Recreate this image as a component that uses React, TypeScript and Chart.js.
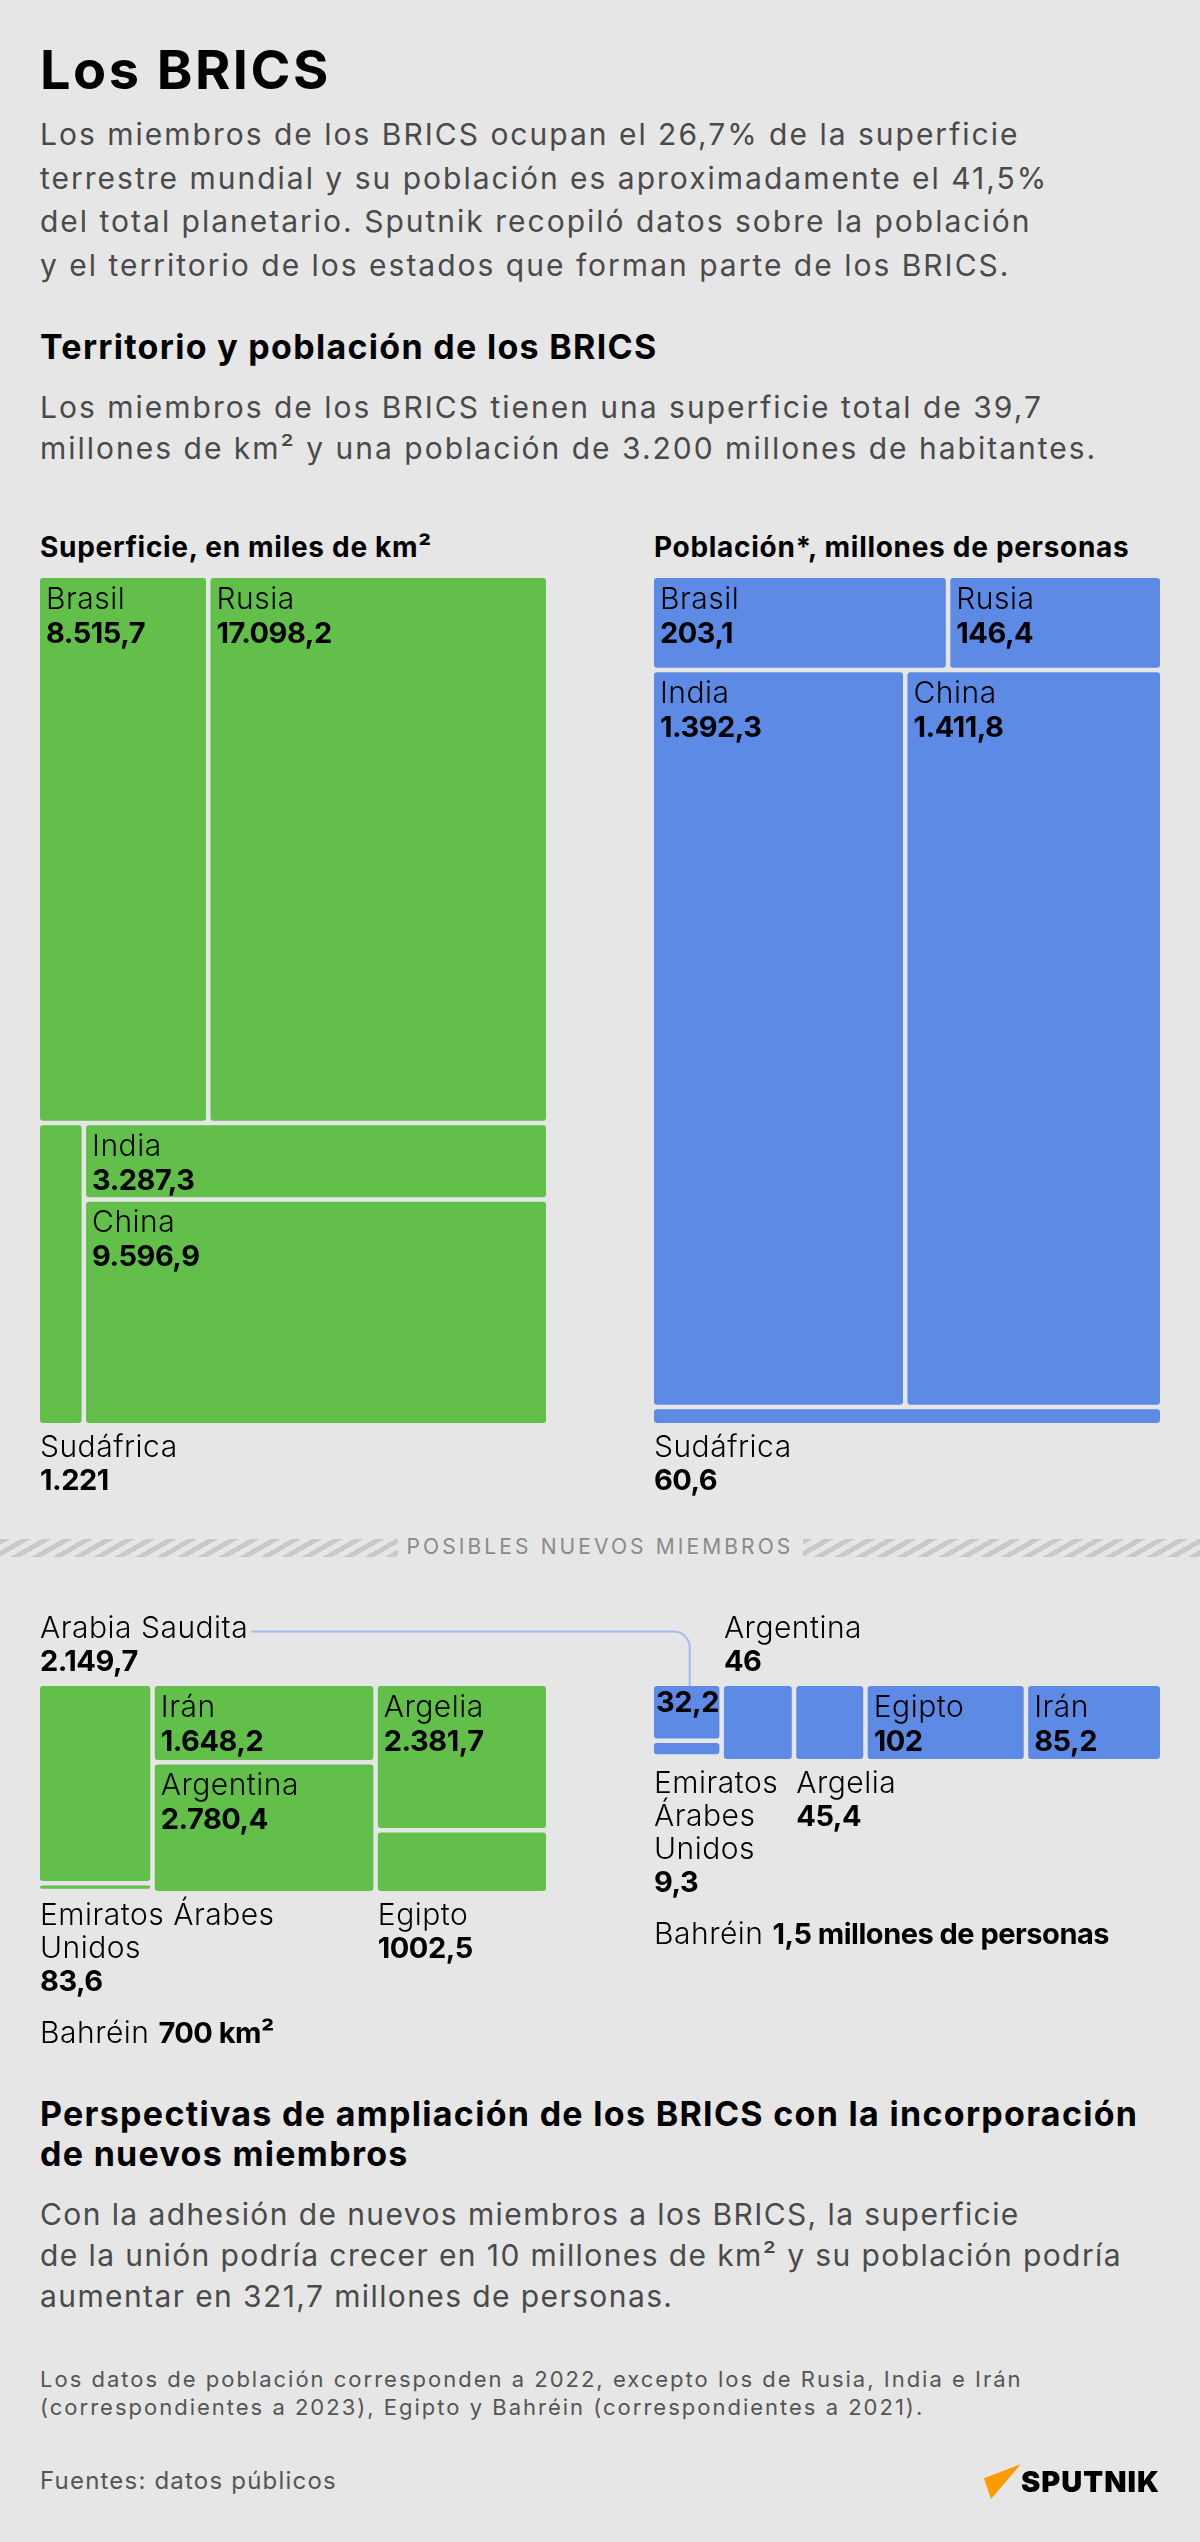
import React, { useEffect, useRef } from 'react';
import { Chart, registerables } from 'chart.js';

Chart.register(...registerables);

const FONT = 'Inter, "Noto Sans", sans-serif';
const GREEN = '#61bf4a';
const BLUE = '#5c8ae5';
const LINK = '#a3bcee';

// ---------- DATA ----------
// BRICS: superficie (miles de km²) y población (millones)
const bricsCountries = ['Brasil', 'Rusia', 'India', 'China', 'Sudáfrica'];
const bricsArea = [8515.7, 17098.2, 3287.3, 9596.9, 1221];
const bricsAreaText = ['8.515,7', '17.098,2', '3.287,3', '9.596,9', '1.221'];
const bricsPopulation = [203.1, 146.4, 1392.3, 1411.8, 60.6];
const bricsPopulationText = ['203,1', '146,4', '1.392,3', '1.411,8', '60,6'];

// Posibles nuevos miembros: superficie
const newAreaCountries = ['Arabia Saudita', 'Irán', 'Argentina', 'Argelia', 'Egipto', 'Emiratos Árabes Unidos', 'Bahréin'];
const newArea = [2149.7, 1648.2, 2780.4, 2381.7, 1002.5, 83.6, 0.7];
const newAreaText = ['2.149,7', '1.648,2', '2.780,4', '2.381,7', '1002,5', '83,6', '700 km²'];

// Posibles nuevos miembros: población
const newPopCountries = ['Arabia Saudita', 'Argentina', 'Emiratos Árabes Unidos', 'Argelia', 'Egipto', 'Irán', 'Bahréin'];
const newPopulation = [32.2, 46, 9.3, 45.4, 102, 85.2, 1.5];
const newPopulationText = ['32,2', '46', '9,3', '45,4', '102', '85,2', '1,5 millones de personas'];

// ---------- TREEMAP STRUCTURE (split directions only, sizes come from values) ----------
type Node = number | { d: 'h' | 'v'; c: Node[] };
const H = (...c: Node[]): Node => ({ d: 'h', c });
const V = (...c: Node[]): Node => ({ d: 'v', c });

const bricsAreaTree = V(H(0, 1), H(4, V(2, 3)));
const bricsPopTree = V(H(0, 1), H(2, 3), 4);
const newAreaTree = H(V(0, 5, 6), V(1, 2), V(3, 4));
const newPopTree = H(V(0, 2, 6), 1, 3, 4, 5);

type Pos = 'inside' | 'below' | 'above' | 'link' | 'note';
const bricsAreaPos: Pos[] = ['inside', 'inside', 'inside', 'inside', 'below'];
const bricsPopPos: Pos[] = ['inside', 'inside', 'inside', 'inside', 'below'];
const newAreaPos: Pos[] = ['above', 'inside', 'inside', 'inside', 'below', 'below', 'note'];
const newPopPos: Pos[] = ['link', 'above', 'below', 'below', 'inside', 'inside', 'note'];

interface Rect { x0: number; y0: number; x1: number; y1: number; }

function nodeSum(n: Node, vals: number[]): number {
  return typeof n === 'number' ? vals[n] : n.c.reduce((s, k) => s + nodeSum(k, vals), 0);
}

function layoutTree(n: Node, vals: number[], x0: number, y0: number, x1: number, y1: number, out: Rect[]) {
  if (typeof n === 'number') {
    out[n] = { x0, y0, x1, y1 };
    return;
  }
  const total = nodeSum(n, vals);
  let acc = 0;
  for (const k of n.c) {
    const s = nodeSum(k, vals);
    const a = acc / total;
    const b = (acc + s) / total;
    if (n.d === 'h') layoutTree(k, vals, x0 + (x1 - x0) * a, y0, x0 + (x1 - x0) * b, y1, out);
    else layoutTree(k, vals, x0, y0 + (y1 - y0) * a, x1, y0 + (y1 - y0) * b, out);
    acc += s;
  }
}

function wrapText(ctx: CanvasRenderingContext2D, text: string, maxW: number): string[] {
  const words = text.split(' ');
  const lines: string[] = [];
  let cur = '';
  for (const w of words) {
    const t = cur ? cur + ' ' + w : w;
    if (cur && ctx.measureText(t).width > maxW) {
      lines.push(cur);
      cur = w;
    } else cur = t;
  }
  if (cur) lines.push(cur);
  return lines;
}

interface Shared { linkX: number; linkY: number; }

interface Cfg {
  names: string[];
  values: number[];
  texts: string[];
  tree: Node;
  pos: Pos[];
  color: string;
  padding: { left: number; right: number; top: number; bottom: number };
  shared: Shared;
}

function nameFont(ctx: any) {
  ctx.font = `300 30px ${FONT}`;
  ctx.letterSpacing = '0.5px';
}
function valueFont(ctx: any) {
  ctx.font = `700 29px ${FONT}`;
  ctx.letterSpacing = '-0.5px';
}

function makePlugin(cfg: Cfg, rects: Rect[]) {
  return {
    id: 'treemapCells',
    afterDatasetsDraw(chart: any) {
      const { ctx, chartArea } = chart;
      const xs = chart.scales.x;
      const ys = chart.scales.y;
      const gap = 4.5;
      const hg = gap / 2;
      const eps = 1e-9;
      const pix = rects.map((r) => {
        let L = xs.getPixelForValue(r.x0);
        let R = xs.getPixelForValue(r.x1);
        let T = ys.getPixelForValue(r.y0);
        let B = ys.getPixelForValue(r.y1);
        if (r.x0 > eps) L += hg;
        if (r.x1 < 1 - eps) R -= hg;
        if (r.y0 > eps) T += hg;
        if (r.y1 < 1 - eps) B -= hg;
        return { L, R, T, B };
      });
      ctx.save();
      // cells
      ctx.fillStyle = cfg.color;
      pix.forEach((p) => {
        const w = p.R - p.L;
        const h = p.B - p.T;
        if (w < 1 || h < 1) return;
        const rad = Math.min(3, w / 2, h / 2);
        ctx.beginPath();
        ctx.roundRect(p.L, p.T, w, h, rad);
        ctx.fill();
      });
      // labels
      ctx.fillStyle = '#000';
      ctx.textBaseline = 'alphabetic';
      ctx.textAlign = 'left';
      let maxBelow = chartArea.bottom;
      cfg.pos.forEach((pos, i) => {
        const p = pix[i];
        const name = cfg.names[i];
        const val = cfg.texts[i];
        if (pos === 'inside') {
          nameFont(ctx);
          ctx.fillText(name, p.L + 6, p.T + 30.5);
          valueFont(ctx);
          ctx.fillText(val, p.L + 6, p.T + 64.5);
        } else if (pos === 'link') {
          valueFont(ctx);
          ctx.fillText(val, p.L + 2, p.T + 26);
        } else if (pos === 'above') {
          nameFont(ctx);
          const nb = chartArea.top - 48.5;
          ctx.fillText(name, p.L, nb);
          if (i === 0) {
            cfg.shared.linkX = p.L + ctx.measureText(name).width + 3;
            cfg.shared.linkY = nb - 6;
          }
          valueFont(ctx);
          ctx.fillText(val, p.L, chartArea.top - 15);
        } else if (pos === 'below') {
          let limit = chart.width - 10;
          cfg.pos.forEach((q, j) => {
            if (q === 'below' && j !== i && pix[j].L > p.L + 1) limit = Math.min(limit, pix[j].L - 30);
          });
          nameFont(ctx);
          const lines = wrapText(ctx, name, limit - p.L);
          let y = chartArea.bottom + 33.5;
          lines.forEach((ln) => {
            ctx.fillText(ln, p.L, y);
            y += 33;
          });
          valueFont(ctx);
          ctx.fillText(val, p.L, y);
          maxBelow = Math.max(maxBelow, y);
        }
      });
      cfg.pos.forEach((pos, i) => {
        if (pos !== 'note') return;
        const y = maxBelow + 52;
        const x = chartArea.left;
        nameFont(ctx);
        const name = cfg.names[i] + ' ';
        ctx.fillText(name, x, y);
        const w = ctx.measureText(name).width;
        valueFont(ctx);
        ctx.fillText(cfg.texts[i], x + w, y);
      });
      // connector
      cfg.pos.forEach((pos, i) => {
        if (pos !== 'link' || !isFinite(cfg.shared.linkX)) return;
        const p = pix[i];
        const cx = (p.L + p.R) / 2 + 3;
        const ly = cfg.shared.linkY;
        const r = 16;
        ctx.strokeStyle = LINK;
        ctx.lineWidth = 2;
        ctx.beginPath();
        ctx.moveTo(cx, p.T);
        ctx.lineTo(cx, ly + r);
        ctx.arcTo(cx, ly, cx - r, ly, r);
        ctx.lineTo(cfg.shared.linkX, ly);
        ctx.stroke();
      });
      ctx.restore();
    },
  };
}

function makeChart(canvas: HTMLCanvasElement, cfg: Cfg) {
  const rects: Rect[] = [];
  layoutTree(cfg.tree, cfg.values, 0, 0, 1, 1, rects);
  return new Chart(canvas, {
    type: 'scatter',
    data: {
      datasets: [
        {
          data: rects.map((r) => ({ x: (r.x0 + r.x1) / 2, y: (r.y0 + r.y1) / 2 })),
          pointRadius: 0,
          pointHoverRadius: 0,
        },
      ],
    },
    options: {
      animation: false,
      responsive: false,
      maintainAspectRatio: false,
      devicePixelRatio: 1,
      events: [],
      layout: { padding: cfg.padding },
      plugins: { legend: { display: false }, tooltip: { enabled: false }, title: { display: false } },
      scales: {
        x: { type: 'linear', min: 0, max: 1, display: false },
        y: { type: 'linear', min: 0, max: 1, reverse: true, display: false },
      },
    },
    plugins: [makePlugin(cfg, rects) as any],
  } as any);
}

function Txt(props: {
  x: number; base: number; size: number; lh: number; weight?: number; color?: string; ls?: number;
  center?: boolean; children: React.ReactNode;
}) {
  const { x, base, size, lh, weight = 400, color = '#000', ls = 0, center = false, children } = props;
  const top = base - ((lh - 1.2109 * size) / 2 + 0.96875 * size);
  return (
    <div
      style={{
        position: 'absolute',
        left: center ? 0 : x,
        width: center ? 1200 : undefined,
        textAlign: center ? 'center' : 'left',
        top,
        fontFamily: FONT,
        fontSize: size,
        lineHeight: lh + 'px',
        fontWeight: weight,
        color,
        letterSpacing: ls,
        whiteSpace: 'pre',
        margin: 0,
      }}
    >
      {children}
    </div>
  );
}

const hatch = 'repeating-linear-gradient(150deg, #c9c9c9 0px, #c9c9c9 5px, transparent 5px, transparent 10.4px)';

export default function App() {
  const c1 = useRef<HTMLCanvasElement>(null);
  const c2 = useRef<HTMLCanvasElement>(null);
  const c3 = useRef<HTMLCanvasElement>(null);
  const c4 = useRef<HTMLCanvasElement>(null);

  useEffect(() => {
    document.body.style.margin = '0';
    document.body.style.background = '#e6e6e6';
    const shared: Shared = { linkX: NaN, linkY: NaN };
    const charts = [
      makeChart(c1.current!, {
        names: bricsCountries, values: bricsArea, texts: bricsAreaText, tree: bricsAreaTree, pos: bricsAreaPos,
        color: GREEN, padding: { left: 40, right: 654, top: 58, bottom: 97 }, shared: { linkX: NaN, linkY: NaN },
      }),
      makeChart(c2.current!, {
        names: bricsCountries, values: bricsPopulation, texts: bricsPopulationText, tree: bricsPopTree, pos: bricsPopPos,
        color: BLUE, padding: { left: 654, right: 40, top: 58, bottom: 97 }, shared: { linkX: NaN, linkY: NaN },
      }),
      makeChart(c3.current!, {
        names: newAreaCountries, values: newArea, texts: newAreaText, tree: newAreaTree, pos: newAreaPos,
        color: GREEN, padding: { left: 40, right: 654, top: 106, bottom: 169 }, shared,
      }),
      makeChart(c4.current!, {
        names: newPopCountries, values: newPopulation, texts: newPopulationText, tree: newPopTree, pos: newPopPos,
        color: BLUE, padding: { left: 654, right: 40, top: 106, bottom: 301 }, shared,
      }),
    ];
    return () => charts.forEach((c) => c.destroy());
  }, []);

  const body = '#4a4a4a';
  const small = '#555555';

  return (
    <div style={{ position: 'absolute', left: 0, top: 0, width: 1200, height: 2542, background: '#e6e6e6', overflow: 'hidden', fontFamily: FONT }}>
      <Txt x={40} base={90} size={54} lh={62} weight={700} ls={2.5}>Los BRICS</Txt>
      <Txt x={40} base={145.7} size={30} lh={43.6} color={body} ls={2}>
        {'Los miembros de los BRICS ocupan el 26,7% de la superficie\nterrestre mundial y su población es aproximadamente el 41,5%\ndel total planetario. Sputnik recopiló datos sobre la población\ny el territorio de los estados que forman parte de los BRICS.'}
      </Txt>
      <Txt x={40} base={359.3} size={34} lh={40} weight={700} ls={1.3}>Territorio y población de los BRICS</Txt>
      <Txt x={40} base={418.3} size={30} lh={41.7} color={body} ls={2}>
        {'Los miembros de los BRICS tienen una superficie total de 39,7\nmillones de km² y una población de 3.200 millones de habitantes.'}
      </Txt>
      <Txt x={40} base={557.3} size={28} lh={34} weight={700} ls={0.7}>Superficie, en miles de km²</Txt>
      <Txt x={654} base={557.3} size={28} lh={34} weight={700} ls={0.7}>Población*, millones de personas</Txt>

      <canvas ref={c1} width={1200} height={1000} style={{ position: 'absolute', left: 0, top: 520 }} />
      <canvas ref={c2} width={1200} height={1000} style={{ position: 'absolute', left: 0, top: 520 }} />

      <div style={{ position: 'absolute', left: 0, top: 1539, width: 398, height: 18, background: hatch }} />
      <div style={{ position: 'absolute', left: 803, top: 1539, width: 397, height: 18, background: hatch }} />
      <Txt x={0} center base={1555} size={21} lh={26} ls={3.1} color="#8a8a8a">POSIBLES NUEVOS MIEMBROS</Txt>

      <canvas ref={c3} width={1200} height={480} style={{ position: 'absolute', left: 0, top: 1580 }} />
      <canvas ref={c4} width={1200} height={480} style={{ position: 'absolute', left: 0, top: 1580 }} />

      <Txt x={40} base={2126.7} size={34} lh={40} weight={700} ls={1.3}>
        {'Perspectivas de ampliación de los BRICS con la incorporación\nde nuevos miembros'}
      </Txt>
      <Txt x={40} base={2225.5} size={30} lh={41} color={body} ls={1.4}>
        {'Con la adhesión de nuevos miembros a los BRICS, la superficie\nde la unión podría crecer en 10 millones de km² y su población podría\naumentar en 321,7 millones de personas.'}
      </Txt>
      <Txt x={40} base={2386.7} size={22} lh={28.3} color={small} ls={2}>
        {'Los datos de población corresponden a 2022, excepto los de Rusia, India e Irán\n(correspondientes a 2023), Egipto y Bahréin (correspondientes a 2021).'}
      </Txt>
      <Txt x={40} base={2490} size={24} lh={30} color={small} ls={1.2}>Fuentes: datos públicos</Txt>

      <svg width={1200} height={2542} style={{ position: 'absolute', left: 0, top: 0, pointerEvents: 'none' }}>
        <polygon points="984,2478.3 1020.7,2464.3 991,2499" fill="#ff9a00" />
      </svg>
      <Txt x={1021} base={2492.7} size={29} lh={34} weight={900} ls={1}>SPUTNIK</Txt>
    </div>
  );
}
